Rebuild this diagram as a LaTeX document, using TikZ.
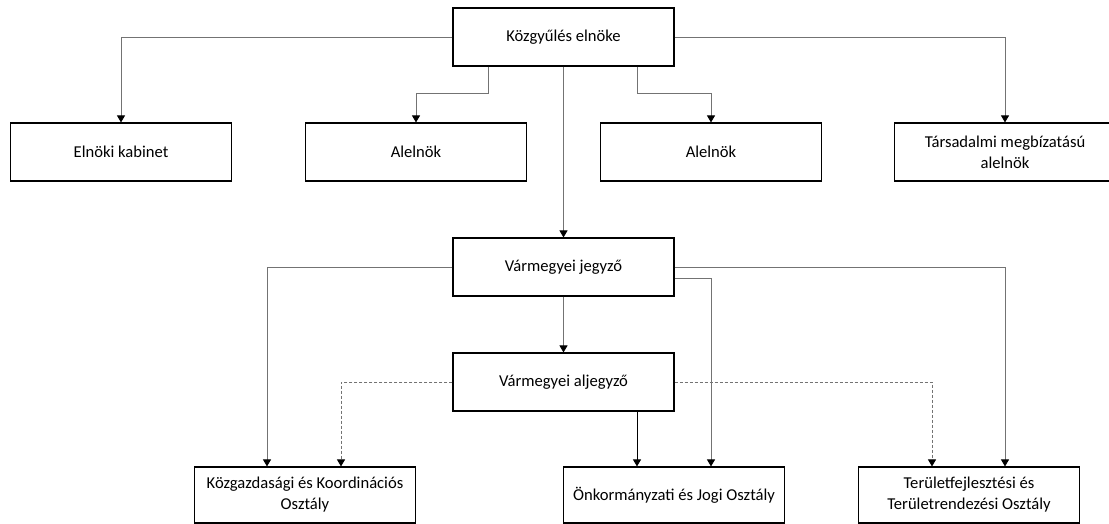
\documentclass[tikz,border=0pt]{standalone}
\usepackage{fontspec}
\setmainfont{Carlito}
\usepackage{xcolor}
\usepackage{tikz}
\usetikzlibrary{positioning,arrows.meta}

\definecolor{linegray}{RGB}{115,115,115}

\begin{document}
\begin{tikzpicture}[x=1pt, y=-1pt, >={Triangle[width=8pt,length=7pt,black]},
    box/.style={draw, rectangle, line width=1.1pt, minimum width=221pt, minimum height=58pt,
        align=center, inner sep=0pt, font=\fontsize{16.6}{21}\selectfont},
    conn/.style={->, draw=linegray, line width=0.9pt},
    dotconn/.style={conn, dash pattern=on 3pt off 2pt}]
    \useasboundingbox (0,0) rectangle (1109,524);

    % top level
    \node[box] (elnok) at (563.5,37) {Közgyűlés elnöke};
    \node[box] (kabinet) at (121,152) {Elnöki kabinet};
    \node[box] (alel1) at (416,152) {Alelnök};
    \node[box] (alel2) at (711,152) {Alelnök};
    \node[box] (tars) at (1005,152) {Társadalmi megbízatású\\alelnök};

    % jegyzo and aljegyzo
    \node[box] (jegyzo) at (563.5,267) {Vármegyei jegyző};
    \node[box] (aljegyzo) at (563.5,382) {Vármegyei aljegyző};

    % osztalyok
    \node[box, minimum height=56pt] (kozgazd) at (305,495) {Közgazdasági és Koordinációs\\Osztály};
    \node[box, minimum height=56pt] (onkorm) at (674,495) {Önkormányzati és Jogi Osztály};
    \node[box, minimum height=56pt] (terfejl) at (969,495) {Területfejlesztési és\\Területrendezési Osztály};

    \draw[conn] (elnok.west) -| (kabinet.north);
    \draw[conn] ([xshift=-75pt]elnok.south) -- ++(0,27) -| (alel1.north);
    \draw[conn] ([xshift=73.5pt]elnok.south) -- ++(0,27) -| (alel2.north);
    \draw[conn] (elnok.east) -| (tars.north);
    \draw[conn] (elnok.south) -- (jegyzo.north);

    \draw[conn] (jegyzo.west) -| ([xshift=-38pt]kozgazd.north);
    \draw[conn] (jegyzo.south) -- (aljegyzo.north);
    \draw[conn] ([yshift=-11pt]jegyzo.east) -| ([xshift=37pt]onkorm.north);
    \draw[conn] (jegyzo.east) -| ([xshift=36pt]terfejl.north);

    \draw[dotconn] (aljegyzo.west) -| ([xshift=36pt]kozgazd.north);
    \draw[conn, draw=black] ([xshift=-37pt]onkorm.north |- aljegyzo.south) -- ([xshift=-37pt]onkorm.north);
    \draw[dotconn] (aljegyzo.east) -| ([xshift=-37pt]terfejl.north);
\end{tikzpicture}
\end{document}
